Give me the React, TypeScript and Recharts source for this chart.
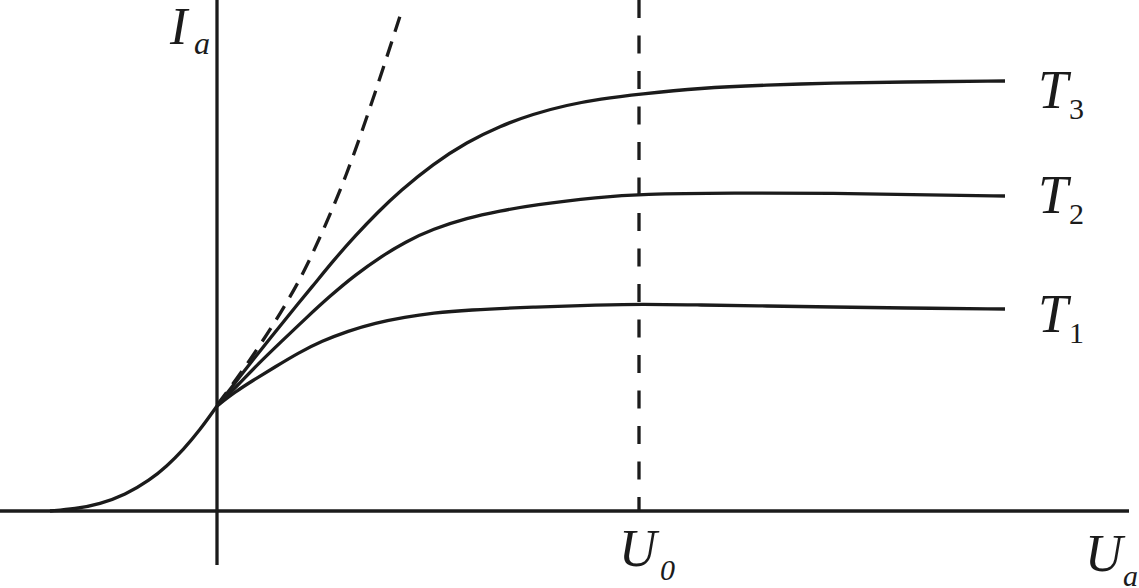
import { LineChart, Line, XAxis, YAxis, ReferenceLine } from "recharts";

// Anode current vs anode voltage, diagram units (1 unit ≈ 1 px)
const uLeft = [-167, -142, -117, -92, -67, -50, -34, -17, 0];
const iLeft = [0, 2, 7, 16, 31, 45, 61, 81, 105];

const uT1 = [0, 18, 35, 58, 81, 105, 131, 158, 188, 216, 250, 316, 383, 423, 483, 550, 616, 683, 788];
const iT1 = [105, 119, 130, 144, 158, 170, 180, 188, 194, 198, 201, 204, 206, 207, 206, 205, 204, 203, 202];

const uT2 = [0, 21, 41, 65, 88, 113, 138, 165, 188, 216, 250, 283, 316, 383, 423, 516, 616, 716, 788];
const iT2 = [105, 126, 147, 170, 192, 215, 236, 255, 269, 282, 293, 300, 306, 314, 317, 318, 318, 316, 315];

const uT3 = [0, 18, 35, 55, 75, 95, 116, 138, 161, 183, 216, 250, 283, 316, 350, 383, 423, 483, 550, 616, 683, 788];
const iT3 = [105, 128, 150, 175, 200, 224, 250, 275, 299, 320, 347, 369, 385, 397, 406, 412, 417, 423, 426, 428, 429, 430];

// space-charge limit (dashed)
const uLimit = [0, 13, 28, 43, 58, 73, 88, 105, 128, 156, 184];
const iLimit = [106, 123, 144, 166, 189, 214, 241, 278, 331, 411, 498];

const U0 = 423;

const zip = (u: number[], i: number[]) => u.map((x, k) => ({ u: x, i: i[k] }));

const ink = "#1b1b1b";
const serif = "'Liberation Serif', 'DejaVu Serif', serif";
const lw = 3.3;

export default function App() {
  const lineProps = {
    dataKey: "i",
    type: "basis" as const,
    stroke: ink,
    strokeWidth: lw,
    dot: false,
    activeDot: false,
    isAnimationActive: false,
  };

  return (
    <div style={{ position: "absolute", left: 0, top: 0, width: 1139, height: 588, background: "#fff" }}>
      <LineChart width={1139} height={588} margin={{ top: 0, right: 0, bottom: 0, left: 0 }}>
        <XAxis dataKey="u" type="number" domain={[-217, 922]} hide allowDataOverflow />
        <YAxis type="number" domain={[-77, 511]} hide allowDataOverflow />
        {/* axes */}
        <ReferenceLine segment={[{ x: -217, y: 0 }, { x: 912, y: 0 }]} stroke={ink} strokeWidth={lw} />
        <ReferenceLine segment={[{ x: 0, y: 511 }, { x: 0, y: -54 }]} stroke={ink} strokeWidth={lw} />
        <ReferenceLine
          segment={[{ x: U0 - 1, y: 511 }, { x: U0 - 1, y: 0 }]}
          stroke={ink}
          strokeWidth={lw}
          strokeDasharray="18 17.5"
        />
        <Line {...lineProps} data={zip(uLimit, iLimit)} strokeDasharray="16 10" />
        <Line {...lineProps} data={zip(uLeft, iLeft)} />
        <Line {...lineProps} data={zip(uT1, iT1)} />
        <Line {...lineProps} data={zip(uT2, iT2)} />
        <Line {...lineProps} data={zip(uT3, iT3)} />
      </LineChart>
      <svg
        width={1139}
        height={588}
        style={{ position: "absolute", left: 0, top: 0, pointerEvents: "none" }}
        fontFamily={serif}
        fill={ink}
      >
        <text x={170} y={44} fontSize={52} fontStyle="italic">I</text>
        <text x={194} y={54} fontSize={32} fontStyle="italic">a</text>

        <text x={1038} y={108} fontSize={54} fontStyle="italic">T</text>
        <text x={1069} y={119} fontSize={30}>3</text>
        <text x={1038} y={213} fontSize={54} fontStyle="italic">T</text>
        <text x={1069} y={224} fontSize={30}>2</text>
        <text x={1038} y={332} fontSize={54} fontStyle="italic">T</text>
        <text x={1069} y={343} fontSize={30}>1</text>

        <text x={619} y={566} fontSize={52} fontStyle="italic">U</text>
        <text x={660} y={580} fontSize={30} fontStyle="italic">0</text>
        <text x={1085} y={571} fontSize={52} fontStyle="italic">U</text>
        <text x={1123} y={586} fontSize={30} fontStyle="italic">a</text>
      </svg>
    </div>
  );
}
